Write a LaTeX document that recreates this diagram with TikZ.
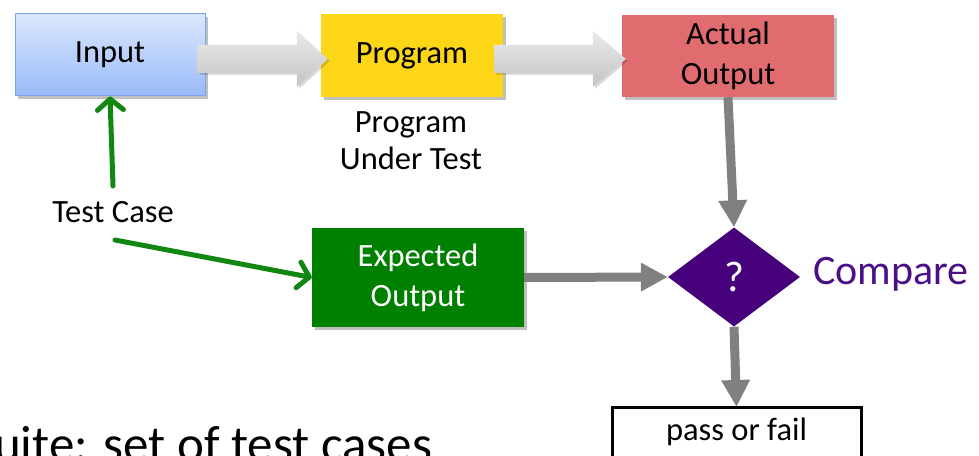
\documentclass[tikz,border=0pt]{standalone}
\usepackage{fontspec}
\setmainfont{Carlito}
\usetikzlibrary{arrows.meta,shapes.geometric,shadows,calc}
\definecolor{inTop}{RGB}{220,231,254}
\definecolor{inBot}{RGB}{152,186,248}
\definecolor{inBorder}{RGB}{126,161,238}
\definecolor{progY}{RGB}{254,214,24}
\definecolor{actR}{RGB}{224,108,112}
\definecolor{expG}{RGB}{0,128,0}
\definecolor{diaC}{RGB}{70,0,124}
\definecolor{cmpC}{RGB}{75,15,135}
\definecolor{connG}{RGB}{128,128,128}
\definecolor{lineG}{RGB}{16,135,16}
\definecolor{baTop}{RGB}{234,234,234}
\definecolor{baBot}{RGB}{196,196,196}
\begin{document}
\begin{tikzpicture}[x=1pt,y=1pt,
  txt/.style={font=\fontsize{32.5}{40}\selectfont, align=center},
  box/.style={txt, inner sep=0pt, drop shadow={shadow xshift=3pt,shadow yshift=-3pt,opacity=.25,fill=black}},
  conn/.style={draw=connG, line width=9pt, -{Triangle[length=27pt,width=27pt]}},
  greenarr/.style={draw=lineG, line width=5pt, line cap=round, -{Straight Barb[length=11pt,width=26pt,line join=round,line cap=round]}},
  blockarr/.style={top color=baTop, bottom color=baBot, drop shadow={shadow xshift=2pt,shadow yshift=-2pt,opacity=.15,fill=black}}
]
\useasboundingbox (0,0) rectangle (979,455);
\clip (0,0) rectangle (979,455);

% boxes
\node[box, draw=inBorder, line width=1pt, top color=inTop, bottom color=inBot,
      minimum width=190pt, minimum height=82pt] (in) at (110,400) {Input};
\node[box, fill=progY, minimum width=182pt, minimum height=83pt] (prog) at (412,399.5) {Program};
\node[box, fill=actR, minimum width=212pt, minimum height=82pt] (act) at (728,399) {Actual\\Output};
\node[txt, inner sep=0pt, font=\fontsize{32.5}{37}\selectfont] (put) at (411,314) {Program\\Under Test};
\node[txt, inner sep=0pt] (tc) at (113,243) {Test Case};
\coordinate (tcup) at (113,269);
\coordinate (tcdn) at (115,215);
\node[box, fill=expG, text=white, minimum width=212pt, minimum height=99pt] (exp) at (418,177.5) {Expected\\Output};
\node[diamond, fill=diaC, text=white, inner sep=0pt, aspect=1.333,
      minimum width=132pt, minimum height=99pt, font=\fontsize{43}{48}\selectfont] (dia) at (734,178) {?};
\node[anchor=west, text=cmpC, inner sep=0pt, font=\fontsize{42}{50}\selectfont] (cmp) at (813,181) {Compare};
\draw[line width=3pt] (612,-10) rectangle (861,48);
\node[txt, inner sep=0pt] (pf) at (736.5,23) {pass or fail};
\coordinate (pftop) at (736.5,48);
\node[anchor=base west, inner sep=0pt, font=\fontsize{51}{60}\selectfont] (suite) at (-6,-6) {uite: set of test cases};

% block arrows
\path[blockarr] let \p1=($(in.east)+(-8,-4)$), \p2=($(prog.west)+(7,-4)$) in
  (\x1,\y1+14) -- (\x2-31,\y1+14) -- (\x2-31,\y1+28) -- (\x2,\y1) -- (\x2-31,\y1-28) -- (\x2-31,\y1-14) -- (\x1,\y1-14) -- cycle;
\path[blockarr] let \p1=($(prog.east)+(-9,-3.5)$), \p2=($(act.west)+(4,-3)$) in
  (\x1,\y1+14) -- (\x2-33,\y1+14) -- (\x2-33,\y1+28) -- (\x2,\y1) -- (\x2-33,\y1-28) -- (\x2-33,\y1-14) -- (\x1,\y1-14) -- cycle;

% gray connectors
\draw[conn] (act.south) -- (dia.north);
\draw[conn] (exp.east) -- (dia.west);
\draw[conn] (dia.south) -- (pftop);

% green arrows
\draw[greenarr] (tcup) -- (in.south);
\draw[greenarr] (tcdn) -- (exp.west);
\end{tikzpicture}
\end{document}
